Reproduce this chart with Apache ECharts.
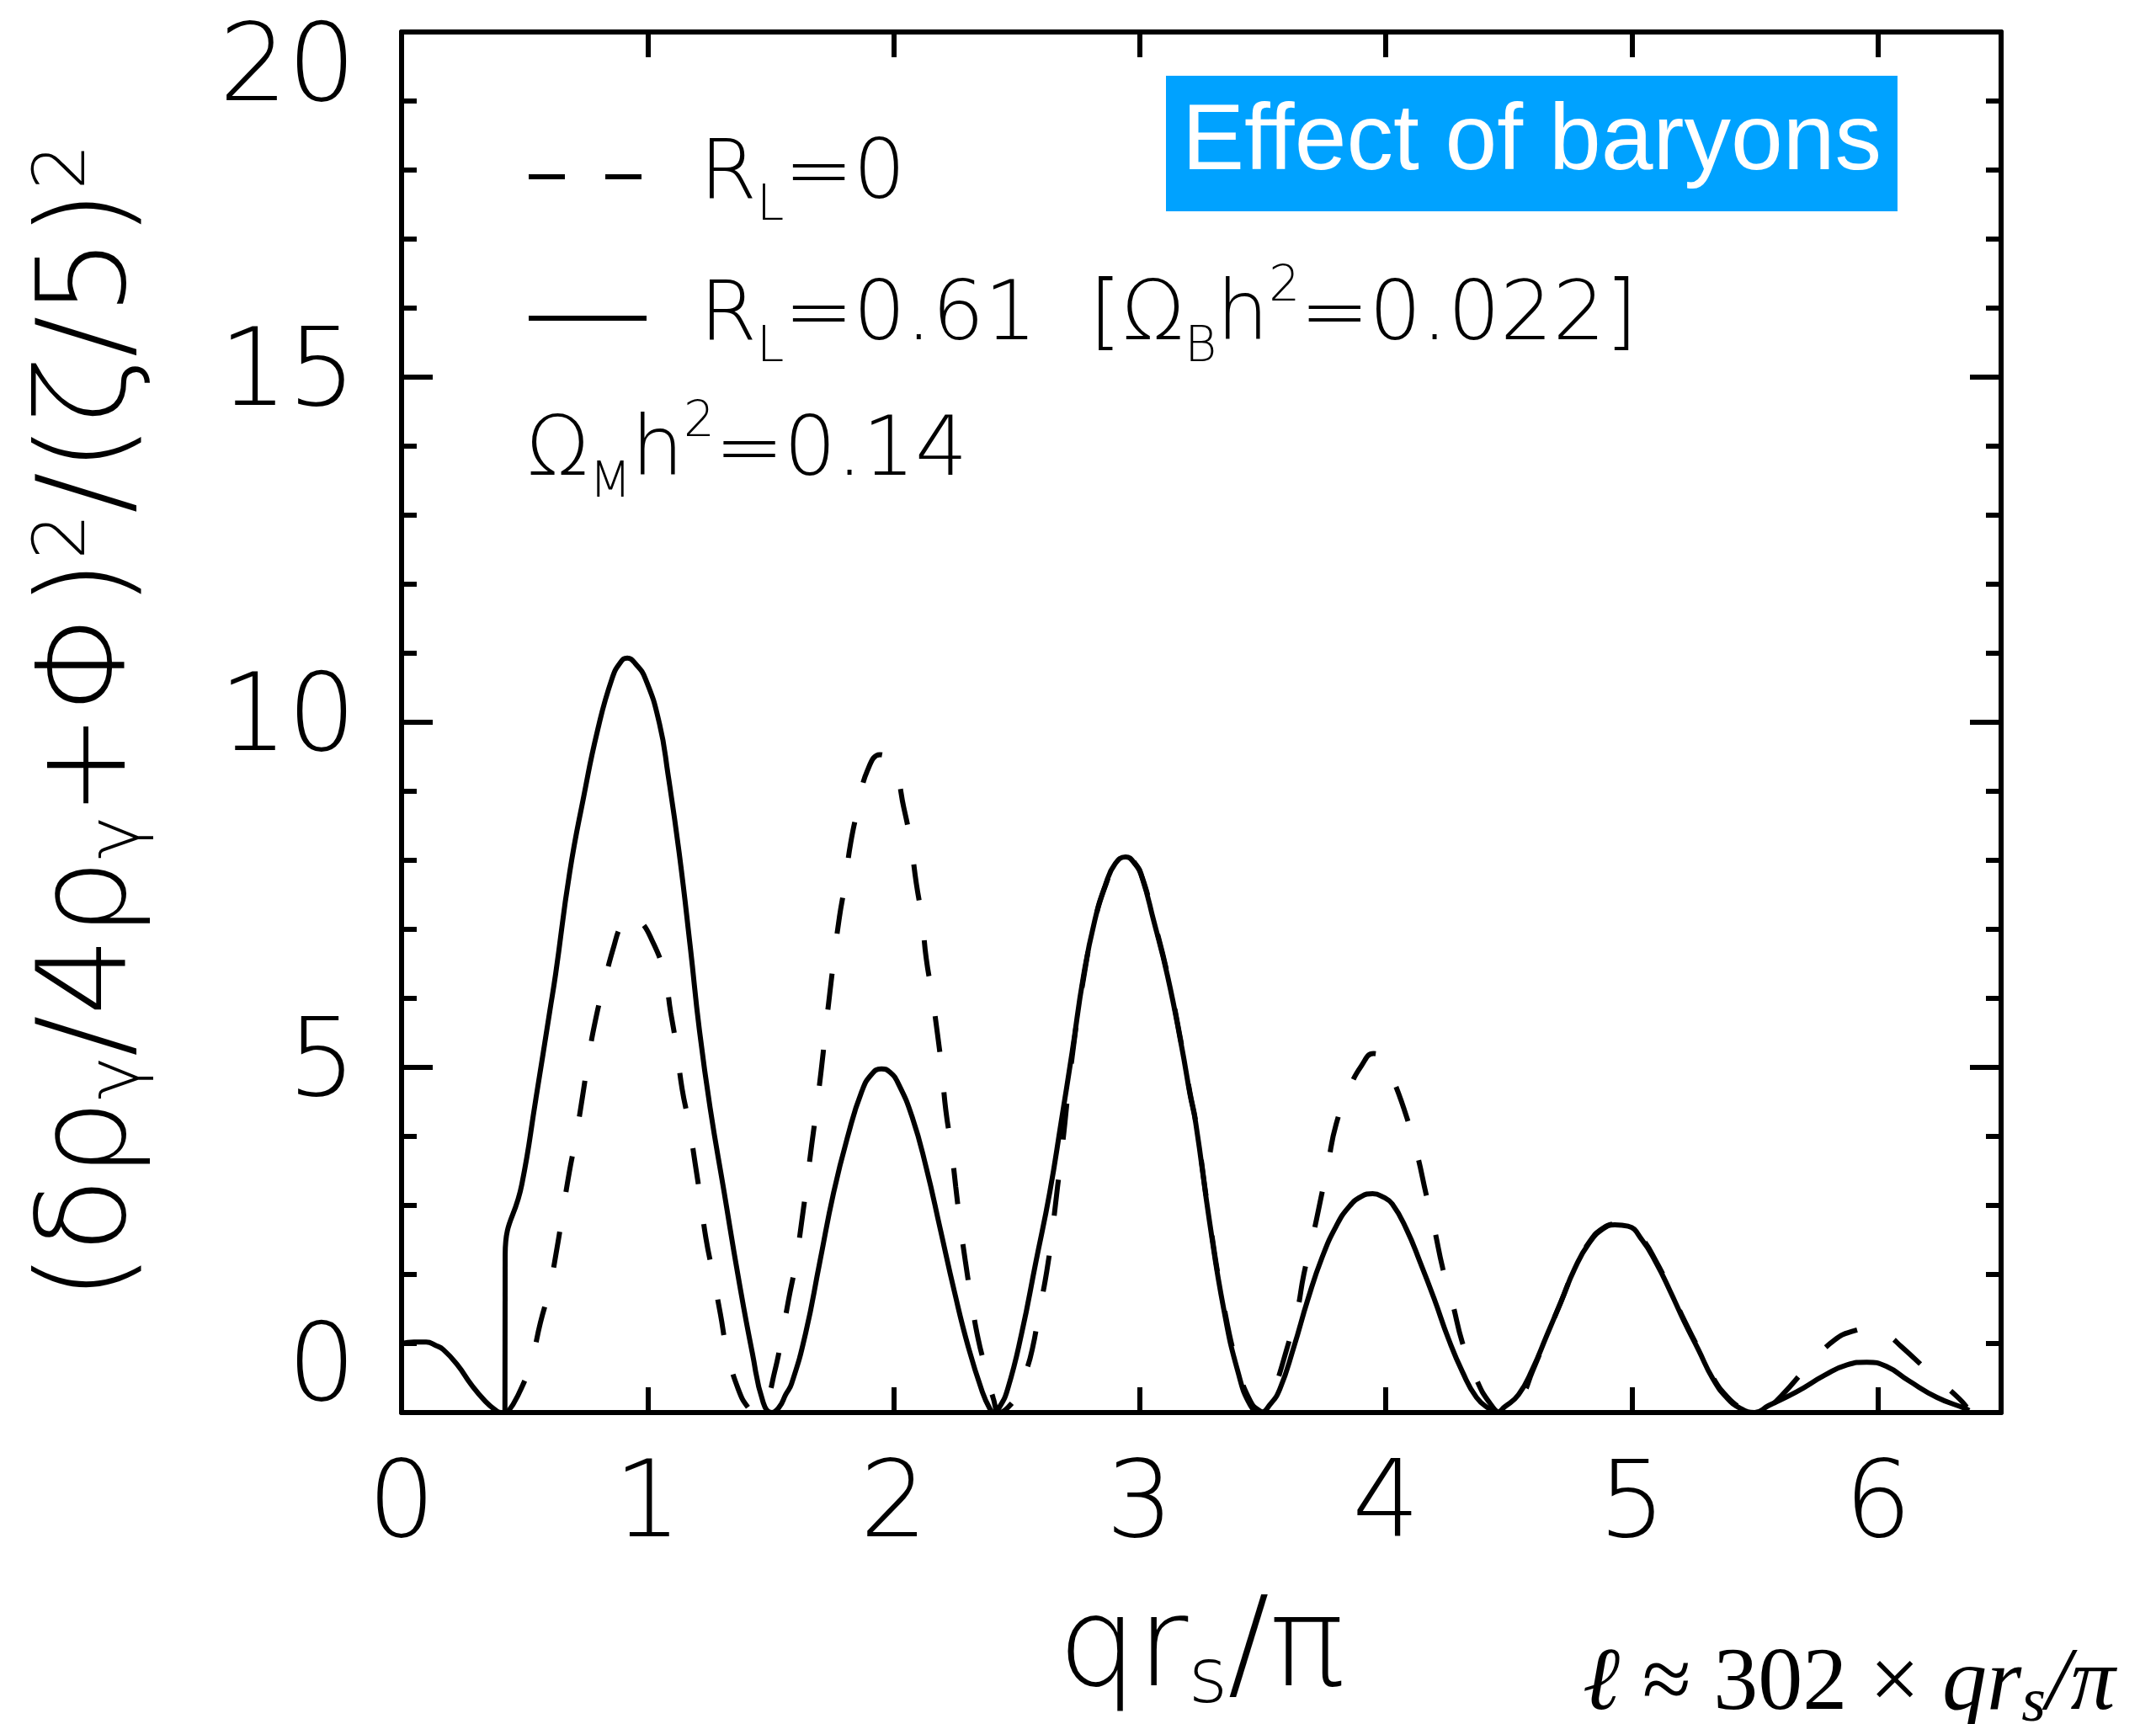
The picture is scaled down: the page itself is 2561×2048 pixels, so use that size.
<!DOCTYPE html>
<html>
<head>
<meta charset="utf-8">
<title>Effect of baryons</title>
<script src="https://cdn.jsdelivr.net/npm/echarts@6/dist/echarts.min.js"></script>
<style>
html, body { margin: 0; padding: 0; background: #fff; }
#chart { width: 2561px; height: 2048px; }
</style>
</head>
<body>
<div id="chart"></div>
<script>
// tick labels
const xTickLabels = ["0", "1", "2", "3", "4", "5", "6"]
const yTickLabels = ["0", "5", "10", "15", "20"]

const seriesNames = ["R_L=0", "R_L=0.61"]

// R_L = 0.61, solid curve
const solidX = [
    0.00, 0.05, 0.10, 0.14, 0.17, 0.227, 0.284, 0.341, 0.38, 0.405, 0.42, 0.421,
    0.489, 0.546, 0.603, 0.626, 0.683, 0.740, 0.797, 0.855, 0.89, 0.917, 0.95, 0.991,
    1.048, 1.083, 1.128, 1.174, 1.21, 1.254, 1.311, 1.368, 1.425, 1.47, 1.505,
    1.535, 1.561, 1.585, 1.642, 1.699, 1.756, 1.813, 1.870, 1.91, 1.950, 1.985, 2.018,
    2.075, 2.132, 2.189, 2.246, 2.303, 2.360, 2.39, 2.406,
    2.430, 2.463, 2.520, 2.577, 2.634, 2.68, 2.725, 2.771, 2.817, 2.862, 2.90, 2.942,
    2.98, 3.010, 3.056, 3.113, 3.17, 3.204, 3.227, 3.284, 3.341, 3.398, 3.45, 3.49,
    3.53, 3.569, 3.626, 3.683, 3.741, 3.798, 3.85, 3.90, 3.946, 3.99, 4.026, 4.083,
    4.14, 4.197, 4.254, 4.311, 4.368, 4.425, 4.45,
    4.482, 4.539, 4.596, 4.653, 4.711, 4.768, 4.825, 4.882, 4.93, 4.984, 5.041, 5.098,
    5.155, 5.212, 5.27, 5.327, 5.384, 5.441, 5.498,
    5.555, 5.669, 5.783, 5.874, 5.954, 6.033, 6.125, 6.239, 6.353, 6.37
]
const solidY = [
    1.00, 1.02, 1.02, 0.97, 0.91, 0.69, 0.40, 0.16, 0.04, 0.00, 0.00, 2.29,
    3.31, 4.55, 5.83, 6.35, 7.82, 8.92, 9.89, 10.63, 10.87, 10.93, 10.85, 10.63,
    9.98, 9.24, 8.11, 6.72, 5.55, 4.41, 3.19, 1.97, 0.87, 0.14, 0.00,
    0.08, 0.26, 0.42, 1.15, 2.17, 3.19, 4.00, 4.65, 4.90, 4.98, 4.93, 4.77,
    4.28, 3.55, 2.66, 1.76, 0.95, 0.30, 0.06, 0.00,
    0.08, 0.34, 1.15, 2.17, 3.19, 4.20, 5.22, 6.32, 7.13, 7.66, 7.95, 8.05,
    7.95, 7.74, 7.13, 6.32, 5.30, 4.61, 4.20, 2.75, 1.50, 0.60, 0.10, 0.00,
    0.12, 0.34, 0.95, 1.64, 2.25, 2.70, 2.98, 3.13, 3.17, 3.12, 3.02, 2.66,
    2.17, 1.64, 1.07, 0.59, 0.22, 0.04, 0.00,
    0.08, 0.26, 0.63, 1.11, 1.60, 2.09, 2.45, 2.66, 2.72, 2.70, 2.50, 2.17,
    1.76, 1.32, 0.91, 0.50, 0.22, 0.06, 0.00,
    0.10, 0.30, 0.54, 0.69, 0.73, 0.67, 0.46, 0.22, 0.06, 0.03
]

// R_L = 0, dashed curve
const dashedX = [
    0.43, 0.472, 0.526, 0.564, 0.601, 0.632, 0.655, 0.681, 0.708, 0.735, 0.757, 0.786,
    0.82, 0.86, 0.895, 0.93, 0.97, 1.014, 1.066, 1.094, 1.117, 1.14, 1.168, 1.193,
    1.214, 1.237, 1.265, 1.296, 1.322, 1.368, 1.413, 1.44,
    1.48, 1.516, 1.545, 1.573, 1.602, 1.625, 1.646, 1.666, 1.686, 1.705, 1.722, 1.74,
    1.758, 1.779, 1.802, 1.825, 1.858, 1.893, 1.944, 2.001, 2.041, 2.069, 2.092, 2.115,
    2.132, 2.155, 2.178, 2.195, 2.212, 2.233, 2.252, 2.269, 2.292, 2.315, 2.343, 2.377,
    2.405, 2.429,
    2.46, 2.50, 2.54, 2.565, 2.588, 2.622, 2.645, 2.665, 2.685, 2.725, 2.771, 2.817,
    2.862, 2.90, 2.942, 2.98, 3.010, 3.056, 3.113, 3.17, 3.204, 3.227, 3.284, 3.341,
    3.398, 3.45, 3.49, 3.51,
    3.535, 3.552, 3.598, 3.638, 3.667, 3.701, 3.735, 3.764, 3.798, 3.849, 3.90, 3.95,
    3.99, 4.031, 4.088, 4.128, 4.163, 4.197, 4.231, 4.271, 4.311, 4.363, 4.42, 4.47,
    4.547, 4.596, 4.653, 4.711, 4.768, 4.825, 4.882, 4.94, 4.984, 5.041, 5.098, 5.155,
    5.212, 5.27, 5.327, 5.384, 5.441, 5.50,
    5.555, 5.612, 5.72, 5.823, 5.90, 5.977, 6.04, 6.096, 6.222, 6.33, 6.36
]
const dashedY = [
    0.00, 0.24, 0.73, 1.30, 1.80, 2.39, 2.90, 3.47, 3.98, 4.57, 5.08, 5.65,
    6.17, 6.72, 7.08, 7.22, 7.12, 6.87, 6.38, 5.79, 5.30, 4.69, 4.18, 3.61,
    3.11, 2.52, 2.01, 1.42, 0.91, 0.34, 0.05, 0.00,
    0.15, 0.59, 1.09, 1.64, 2.17, 2.74, 3.30, 3.86, 4.40, 4.95, 5.50, 6.07,
    6.60, 7.17, 7.66, 8.25, 8.80, 9.30, 9.53, 9.33, 8.76, 8.25, 7.66, 7.15,
    6.58, 6.07, 5.48, 4.98, 4.37, 3.86, 3.27, 2.76, 2.17, 1.64, 1.07, 0.59,
    0.20, 0.00,
    0.06, 0.25, 0.62, 0.95, 1.40, 2.05, 2.65, 3.25, 3.85, 5.15, 6.28, 7.12,
    7.65, 7.95, 8.06, 7.96, 7.75, 7.15, 6.34, 5.32, 4.63, 4.22, 2.78, 1.55,
    0.66, 0.16, 0.02, 0.00,
    0.22, 0.38, 0.93, 1.44, 2.01, 2.52, 3.09, 3.59, 4.18, 4.67, 5.02, 5.20,
    5.12, 4.81, 4.24, 3.73, 3.17, 2.66, 2.09, 1.58, 1.01, 0.52, 0.15, 0.00,
    0.22, 0.60, 1.10, 1.60, 2.09, 2.46, 2.67, 2.73, 2.71, 2.52, 2.19, 1.78,
    1.34, 0.93, 0.52, 0.24, 0.07, 0.00,
    0.08, 0.26, 0.69, 1.05, 1.18, 1.22, 1.12, 0.95, 0.54, 0.20, 0.08
]

const sans = "'DejaVu Sans', sans-serif"
const serif = "'Liberation Serif', 'DejaVu Serif', serif"
const ink = "#000"
const light = 300

function zip(xs, ys) {
    return xs.map((x, i) => [x, ys[i]])
}

// integer ticks only, the extra max tick gets no label
function tickLabel(labels, step) {
    return value => {
        const i = Math.round(value / step)
        return Math.abs(value - i * step) < 1e-6 && labels[i] !== undefined ? labels[i] : ""
    }
}

function sansText(fontSize, lineHeight, extra) {
    return Object.assign({ fontSize, lineHeight, fontFamily: sans, fontWeight: light, color: ink }, extra || {})
}

function serifText(fontSize, lineHeight, extra) {
    return Object.assign({ fontSize, lineHeight, fontFamily: serif, fontWeight: "normal", color: ink }, extra || {})
}

const textRich = {
    gap: { width: 58, fontSize: 10 },
    m: sansText(98, 130),
    sub: sansText(58, 56, { verticalAlign: "bottom" }),
    sup: sansText(58, 70, { verticalAlign: "top" }),
}

const legendLabels = {
    "R_L=0": "{gap| }{m|R}{sub|L}{m|=0}",
    "R_L=0.61": "{gap| }{m|R}{sub|L}{m|=0.61  [Ω}{sub|B}{m|h}{sup|2}{m|=0.022]}",
}

const axisLine = { show: true, onZero: false, lineStyle: { color: ink, width: 6 } }
const tickStyle = { color: ink, width: 6 }

const chart = echarts.init(document.getElementById("chart"))

chart.setOption({
    animation: false,
    backgroundColor: "#fff",
    grid: {
        left: 477,
        right: 184,
        top: 38,
        bottom: 370,
        containLabel: false,
        outerBoundsMode: "none",
    },
    title: [
        {
            text: "Effect of baryons",
            left: 1385,
            top: 90,
            padding: [22, 19, 22, 19],
            backgroundColor: "#00a2ff",
            textStyle: {
                fontSize: 111,
                lineHeight: 117,
                color: "#fff",
                fontWeight: "normal",
                fontFamily: "'Liberation Sans', Arial, sans-serif",
            },
        },
        {
            // multipole conversion note, bottom right
            text: "{it|ℓ}{rm| ≈ 302 × }{it|qr}{isub|s}{it|/π}",
            left: 1880,
            top: 1942,
            padding: 0,
            textStyle: {
                fontWeight: "normal",
                rich: {
                    it: serifText(106, 120, { fontStyle: "italic" }),
                    rm: serifText(106, 120),
                    isub: serifText(74, 60, { fontStyle: "italic", verticalAlign: "bottom" }),
                },
            },
        },
    ],
    legend: {
        data: seriesNames,
        orient: "vertical",
        left: 625,
        top: 161,
        padding: 0,
        itemWidth: 140,
        itemHeight: 20,
        itemGap: 38,
        selectedMode: false,
        itemStyle: { opacity: 0 },
        lineStyle: { width: 6 },
        formatter: name => legendLabels[name],
        textStyle: { rich: textRich },
    },
    xAxis: [
        {
            type: "value",
            min: 0,
            max: 6.5,
            interval: 1,
            position: "bottom",
            axisLine,
            axisTick: { show: true, inside: true, length: 30, lineStyle: tickStyle },
            axisLabel: Object.assign(sansText(126, 96), {
                show: true,
                margin: 66,
                formatter: tickLabel(xTickLabels, 1),
            }),
            splitLine: { show: false },
            name: "{m|qr}{sub|s}{m|/π}",
            nameLocation: "middle",
            nameGap: 206,
            nameTextStyle: {
                rich: {
                    m: sansText(148, 160),
                    sub: sansText(90, 56, { verticalAlign: "bottom" }),
                },
            },
        },
        {
            type: "value",
            min: 0,
            max: 6.5,
            interval: 1,
            position: "top",
            axisLine,
            axisTick: { show: true, inside: true, length: 30, lineStyle: tickStyle },
            axisLabel: { show: false },
            splitLine: { show: false },
        },
    ],
    yAxis: [
        {
            type: "value",
            min: 0,
            max: 20,
            interval: 5,
            position: "left",
            axisLine,
            axisTick: { show: true, inside: true, length: 37, lineStyle: tickStyle },
            minorTick: { show: true, splitNumber: 5, length: 18, lineStyle: tickStyle },
            axisLabel: Object.assign(sansText(128, 96), {
                show: true,
                margin: 54,
                verticalAlignMinLabel: "bottom",
                verticalAlignMaxLabel: "top",
                formatter: tickLabel(yTickLabels, 5),
            }),
            splitLine: { show: false },
            minorSplitLine: { show: false },
            name: "{m|(δρ}{sub|γ}{m|/4ρ}{sub|γ}{m|+Φ)}{sup|2}{m|/(ζ/5)}{sup|2}",
            nameLocation: "middle",
            nameRotate: 90,
            nameGap: 292,
            nameTextStyle: {
                rich: {
                    m: sansText(146, 150),
                    sub: sansText(86, 60, { verticalAlign: "bottom" }),
                    sup: sansText(86, 40, { verticalAlign: "top" }),
                },
            },
        },
        {
            type: "value",
            min: 0,
            max: 20,
            interval: 5,
            position: "right",
            axisLine,
            axisTick: { show: true, inside: true, length: 37, lineStyle: tickStyle },
            minorTick: { show: true, splitNumber: 5, length: 18, lineStyle: tickStyle },
            axisLabel: { show: false },
            splitLine: { show: false },
            minorSplitLine: { show: false },
        },
    ],
    graphic: [
        {
            type: "text",
            left: 625,
            top: 474,
            style: {
                text: "{m|Ω}{sub|M}{m|h}{sup|2}{m|=0.14}",
                rich: textRich,
            },
        },
    ],
    series: [
        {
            name: seriesNames[1],
            type: "line",
            data: zip(solidX, solidY),
            symbol: "none",
            smooth: 0.5,
            lineStyle: { color: ink, width: 6, type: "solid" },
            itemStyle: { color: ink },
            z: 3,
        },
        {
            name: seriesNames[0],
            type: "line",
            data: zip(dashedX, dashedY),
            symbol: "none",
            smooth: 0.5,
            lineStyle: { color: ink, width: 6, type: [43, 48] },
            itemStyle: { color: ink },
            z: 2,
        },
    ],
})
</script>
</body>
</html>
